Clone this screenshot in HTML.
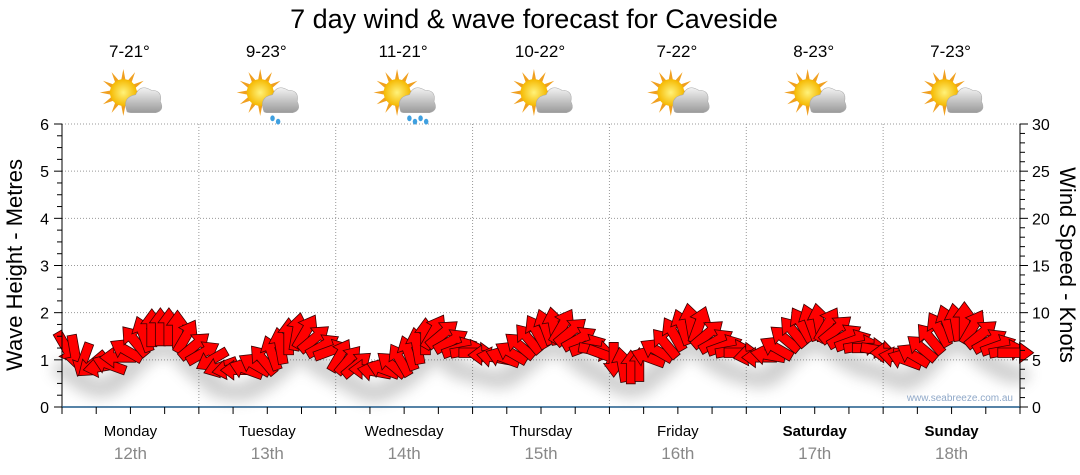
<!DOCTYPE html>
<html><head><meta charset="utf-8">
<style>
html,body{margin:0;padding:0;background:#fff;width:1080px;height:475px;overflow:hidden;font-family:"Liberation Sans","DejaVu Sans",sans-serif}
</style></head>
<body>
<svg id="chart" width="1080" height="475" viewBox="0 0 1080 475" xmlns="http://www.w3.org/2000/svg">
<defs>
<radialGradient id="sunG" cx="0.5" cy="0.5" r="0.5"><stop offset="0" stop-color="#fff27a"/><stop offset="1" stop-color="#f5b800"/></radialGradient>
<linearGradient id="cloudG" x1="0" y1="0" x2="0" y2="1"><stop offset="0" stop-color="#f2f2f2"/><stop offset="1" stop-color="#9a9a9a"/></linearGradient>
<filter id="shadow" x="-50%" y="-50%" width="200%" height="200%"><feGaussianBlur stdDeviation="7"/></filter>
</defs>
<text x="534" y="28" text-anchor="middle" font-size="27" fill="#000">7 day wind &amp; wave forecast for Caveside</text>
<g id="grid"></g>
<g id="icons"></g>
<g id="shadows" filter="url(#shadow)" opacity="0.25"></g>
<g id="arrows"></g>
<g id="axes"></g>
<text transform="translate(22,265) rotate(-90)" text-anchor="middle" font-size="22" fill="#000">Wave Height - Metres</text>
<text transform="translate(1060,265) rotate(90)" text-anchor="middle" font-size="22" fill="#000">Wind Speed - Knots</text>
<text x="1013" y="401" text-anchor="end" font-size="10" fill="#8fa8c8">www.seabreeze.com.au</text>
</svg>
<script>
const days = ["Monday","Tuesday","Wednesday","Thursday","Friday","Saturday","Sunday"];
const dates = ["12th","13th","14th","15th","16th","17th","18th"];
const temps = ["7-21°","9-23°","11-21°","10-22°","7-22°","8-23°","7-23°"];
const rainy = [0,1,2,0,0,0,0];
const waveTicks = [0,1,2,3,4,5,6];
const windTicks = [0,5,10,15,20,25,30];
const waveHeights = [
 1.25,1.15,1.0,0.9,0.85,0.9,1.05,1.2,1.4,1.55,1.68,1.7,1.7,1.65,1.5,1.3,
 1.15,1.0,0.85,0.8,0.78,0.8,0.9,1.0,1.15,1.3,1.5,1.6,1.6,1.45,1.3,1.2,
 1.1,1.0,0.9,0.8,0.75,0.8,0.9,1.0,1.15,1.3,1.5,1.6,1.55,1.4,1.25,1.2,
 1.15,1.1,1.05,1.05,1.15,1.3,1.45,1.6,1.7,1.72,1.72,1.6,1.45,1.3,1.2,1.1,
 1.0,0.9,0.85,0.9,1.05,1.2,1.35,1.55,1.7,1.8,1.75,1.55,1.4,1.3,1.2,1.15,
 1.1,1.05,1.1,1.25,1.45,1.6,1.75,1.8,1.8,1.75,1.65,1.5,1.4,1.3,1.25,1.2,
 1.15,1.05,1.0,1.1,1.25,1.45,1.65,1.78,1.8,1.82,1.7,1.55,1.4,1.3,1.2,1.15];
const windDirs = [
 60,80,110,140,170,200,180,210,230,250,270,270,270,270,300,320,
 330,150,160,170,180,200,210,230,250,260,270,280,300,320,330,340,
 300,310,320,180,190,200,220,240,250,260,270,300,320,330,340,350,
 0,180,190,200,210,220,230,240,250,260,300,320,330,340,10,20,
 90,260,270,270,200,210,230,240,250,260,290,320,330,340,350,0,
 170,180,190,210,220,230,240,250,260,300,320,330,340,350,0,10,
 180,190,200,210,220,230,240,250,260,270,300,320,330,340,350,0];
const windSpeeds = [
 7,7,6,6,6,6,7,7,8,8,9,9,9,9,8,8,
 7,6,6,5,5,6,6,7,7,8,8,9,9,8,7,7,
 7,6,6,5,5,5,6,7,7,8,8,9,9,8,7,7,
 7,6,6,6,6,7,7,8,8,9,9,9,8,8,7,7,
 6,6,5,5,6,7,7,8,8,9,9,9,8,7,7,7,
 6,6,6,7,7,8,9,9,9,9,9,8,8,7,7,7,
 6,6,6,7,7,8,9,9,9,10,9,9,8,7,7,7];

const NS="http://www.w3.org/2000/svg";
const X0=62, X1=1020, Y0=407, Y1=124;
const dayW=(X1-X0)/7;
const N=waveHeights.length;
const yW=v=>Y0-(v/6)*(Y0-Y1);
const yK=v=>Y0-(v/30)*(Y0-Y1);
const xT=i=>X0+(i+0.5)*(X1-X0)/N;
function mk(tag,attrs,parent){const e=document.createElementNS(NS,tag);for(const k in attrs)e.setAttribute(k,attrs[k]);parent.appendChild(e);return e;}
const grid=document.getElementById('grid'), axes=document.getElementById('axes'), icons=document.getElementById('icons');
waveTicks.forEach(v=>{if(v>0){const l=mk('line',{x1:X0,x2:X1,y1:yW(v),y2:yW(v),stroke:'#999','stroke-dasharray':'1,2'},grid);

}});
for(let d=1;d<7;d++){const l=mk('line',{x1:X0+d*dayW,x2:X0+d*dayW,y1:Y1,y2:Y0,stroke:'#999','stroke-dasharray':'1,2'},grid);

}
mk('line',{x1:X0,x2:X0,y1:Y1,y2:Y0,stroke:'#000'},axes);
mk('line',{x1:X1,x2:X1,y1:Y1,y2:Y0,stroke:'#000'},axes);
mk('line',{x1:X0,x2:X1,y1:Y0,y2:Y0,stroke:'#1f5a8a','stroke-width':1.5},axes);
for(let v=0;v<=24;v++){const y=yW(v/4);mk('line',{x1:X0-(v%4?5:8),x2:X0,y1:y,y2:y,stroke:'#000'},axes);}
for(let v=0;v<=30;v++){const y=yK(v);mk('line',{x1:X1,x2:X1+(v%5?5:8),y1:y,y2:y,stroke:'#000'},axes);}
waveTicks.forEach(v=>{const t=mk('text',{x:X0-13,y:yW(v)+6,'text-anchor':'end','font-size':16,fill:'#000'},axes);t.textContent=v;

});
windTicks.forEach(v=>{const t=mk('text',{x:X1+12,y:yK(v)+6,'font-size':16,fill:'#000'},axes);t.textContent=v;

});
for(let i=0;i<=28;i++){const x=X0+i*dayW/4;mk('line',{x1:x,x2:x,y1:Y0,y2:Y0+7,stroke:'#000'},axes);}
days.forEach((d,i)=>{const cx=X0+(i+0.5)*dayW;
const t=mk('text',{x:cx,y:436,'text-anchor':'middle','font-size':15,fill:'#000','font-weight':i>=5?'bold':'normal'},axes);t.textContent=d;


const t2=mk('text',{x:cx,y:459,'text-anchor':'middle','font-size':17,fill:'#888'},axes);t2.textContent=dates[i];


const t3=mk('text',{x:cx-1,y:57,'text-anchor':'middle','font-size':17,fill:'#000'},icons);t3.textContent=temps[i];


const g=mk('g',{transform:`translate(${cx+3},97) scale(1.12)`},icons);


for(let k=0;k<12;k++){const a=k*30*Math.PI/180;mk('polygon',{points:`${-9+Math.cos(a)*21},${-4+Math.sin(a)*21} ${-9+Math.cos(a+0.22)*10},${-4+Math.sin(a+0.22)*10} ${-9+Math.cos(a-0.22)*10},${-4+Math.sin(a-0.22)*10}`,fill:'#f0a020'},g);}
mk('circle',{cx:-9,cy:-4,r:12,fill:'url(#sunG)'},g);
mk('path',{d:'M-6,12 Q-10,0 2,-2 Q6,-12 16,-6 Q26,-6 24,4 Q28,12 20,14 L-2,14 Q-6,14 -6,12 Z',fill:'url(#cloudG)',stroke:'#aaa','stroke-width':0.5},g);
if(rainy[i]){for(let r=0;r<rainy[i]*2;r++){mk('ellipse',{cx:2+r*5,cy:19+(r%2)*3,rx:2,ry:2.6,fill:'#3fa0e0'},g);}}
});
const sh=document.getElementById('shadows'), ar=document.getElementById('arrows');
waveHeights.forEach((h,i)=>{
 const x=xT(i), y=yW(h);
 mk('ellipse',{cx:x,cy:y+22,rx:14,ry:9,fill:'#444'},sh);
});
waveHeights.forEach((h,i)=>{
 const x=xT(i), y=yW(h), s=0.75+windSpeeds[i]/36;
 const L=38*s, W=10*s, H=22*s, HL=15*s;
 const p=mk('polygon',{points:`${-L/2},${-W/2} ${L/2-HL},${-W/2} ${L/2-HL},${-H/2} ${L/2},0 ${L/2-HL},${H/2} ${L/2-HL},${W/2} ${-L/2},${W/2}`,
  transform:`translate(${x},${y}) rotate(${windDirs[i]})`,fill:'#ff0000',stroke:'#3a0000','stroke-width':0.8},ar);
 
 
});
</script>
</body></html>
